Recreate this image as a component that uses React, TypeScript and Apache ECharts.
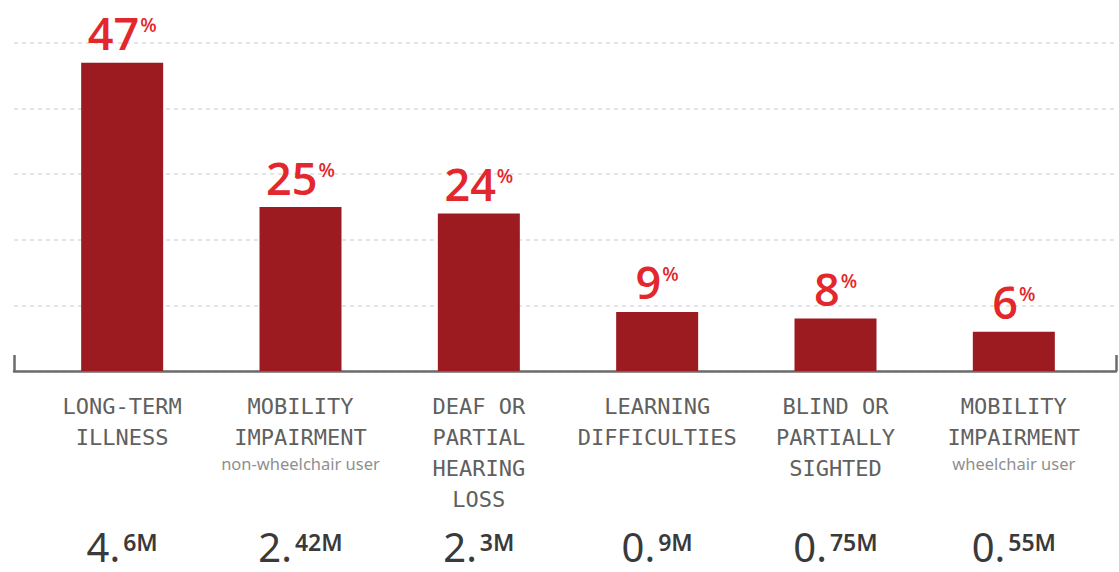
import React, { useEffect, useRef } from "react";
import * as echarts from "echarts";

const categories = [
  "LONG-TERM ILLNESS",
  "MOBILITY IMPAIRMENT non-wheelchair user",
  "DEAF OR PARTIAL HEARING LOSS",
  "LEARNING DIFFICULTIES",
  "BLIND OR PARTIALLY SIGHTED",
  "MOBILITY IMPAIRMENT wheelchair user",
];
const labelLines = [
  ["LONG-TERM", "ILLNESS"],
  ["MOBILITY", "IMPAIRMENT"],
  ["DEAF OR", "PARTIAL", "HEARING", "LOSS"],
  ["LEARNING", "DIFFICULTIES"],
  ["BLIND OR", "PARTIALLY", "SIGHTED"],
  ["MOBILITY", "IMPAIRMENT"],
];
const subLabels = ["", "non-wheelchair user", "", "", "", "wheelchair user"];
const percentages = [47, 25, 24, 9, 8, 6];
const millions = ["4.6", "2.42", "2.3", "0.9", "0.75", "0.55"];
const yTicks = [0, 10, 20, 30, 40, 50];

const BAR = "#9b1b20";
const RED = "#e2272d";

export default function App() {
  const ref = useRef<HTMLDivElement>(null);
  useEffect(() => {
    document.body.style.margin = "0";
    if (!ref.current) return;
    const chart = echarts.init(ref.current, undefined, { renderer: "svg" });
    const top = 43;
    const bottom = 201;
    chart.setOption({
      animation: false,
      backgroundColor: "#ffffff",
      grid: [
        { left: 14, right: 3, top, bottom },
        { left: 33, right: 16, top, bottom },
      ],
      xAxis: [
        {
          type: "value",
          gridIndex: 0,
          min: 0,
          max: 1,
          interval: 1,
          axisLine: { show: true, lineStyle: { color: "#6b6b6b", width: 2.5 } },
          axisTick: { show: true, inside: true, length: 16, lineStyle: { color: "#6b6b6b", width: 2.5 } },
          axisLabel: { show: false },
          splitLine: { show: false },
        },
        {
          type: "category",
          gridIndex: 1,
          data: categories,
          axisLine: { show: false },
          axisTick: { show: false },
          axisLabel: {
            interval: 0,
            margin: 20,
            formatter: (_v: string, i: number) => {
              const lines = labelLines[i].map((l) => `{c|${l}}`);
              if (subLabels[i]) lines.push(`{s|${subLabels[i]}}`);
              return lines.join("\n");
            },
            rich: {
              c: {
                fontFamily: "DejaVu Sans Mono",
                fontSize: 22,
                lineHeight: 31,
                color: "#606060",
              },
              s: {
                fontFamily: "Noto Sans",
                fontSize: 16.5,
                lineHeight: 20,
                color: "#8f8f8f",
              },
            },
          },
        },
        {
          type: "category",
          gridIndex: 1,
          position: "bottom",
          offset: 155,
          data: categories,
          axisLine: { show: false },
          axisTick: { show: false },
          axisLabel: {
            interval: 0,
            margin: 0,
            formatter: (_v: string, i: number) => {
              const [a, b] = millions[i].split(".");
              return `{a|${a}.}{b|${b}M}`;
            },
            rich: {
              a: {
                fontFamily: "Noto Sans",
                fontSize: 40,
                lineHeight: 40,
                color: "#3a3a3a",
              },
              b: {
                fontFamily: "Noto Sans",
                fontSize: 23,
                fontWeight: 600,
                lineHeight: 26,
                padding: [4, 0, 0, 3],
                verticalAlign: "top",
                color: "#3a3a3a",
              },
            },
          },
        },
      ],
      yAxis: [
        {
          type: "value",
          gridIndex: 0,
          min: yTicks[0],
          max: yTicks[yTicks.length - 1],
          interval: 10,
          axisLine: { show: false },
          axisTick: { show: false },
          axisLabel: { show: false },
          splitLine: { show: true, lineStyle: { color: "#dcdcdc", type: [4, 4], width: 1.5 } },
        },
        {
          type: "value",
          gridIndex: 1,
          min: yTicks[0],
          max: yTicks[yTicks.length - 1],
          interval: 10,
          show: false,
        },
      ],
      series: [
        {
          type: "bar",
          xAxisIndex: 1,
          yAxisIndex: 1,
          data: percentages,
          barWidth: 82,
          itemStyle: { color: BAR },
          label: {
            show: true,
            position: "top",
            distance: 7,
            formatter: (p: any) => `{n|${percentages[p.dataIndex]}}{p|%}`,
            rich: {
              n: {
                fontFamily: "Open Sans",
                fontSize: 45,
                fontWeight: 600,
                lineHeight: 46,
                color: RED,
              },
              p: {
                fontFamily: "Open Sans",
                fontSize: 19,
                fontWeight: 600,
                lineHeight: 22,
                padding: [6, 0, 0, 1],
                verticalAlign: "top",
                color: RED,
              },
            },
          },
        },
      ],
    });
    return () => chart.dispose();
  }, []);
  return <div ref={ref} style={{ width: 1119, height: 572 }} />;
}
